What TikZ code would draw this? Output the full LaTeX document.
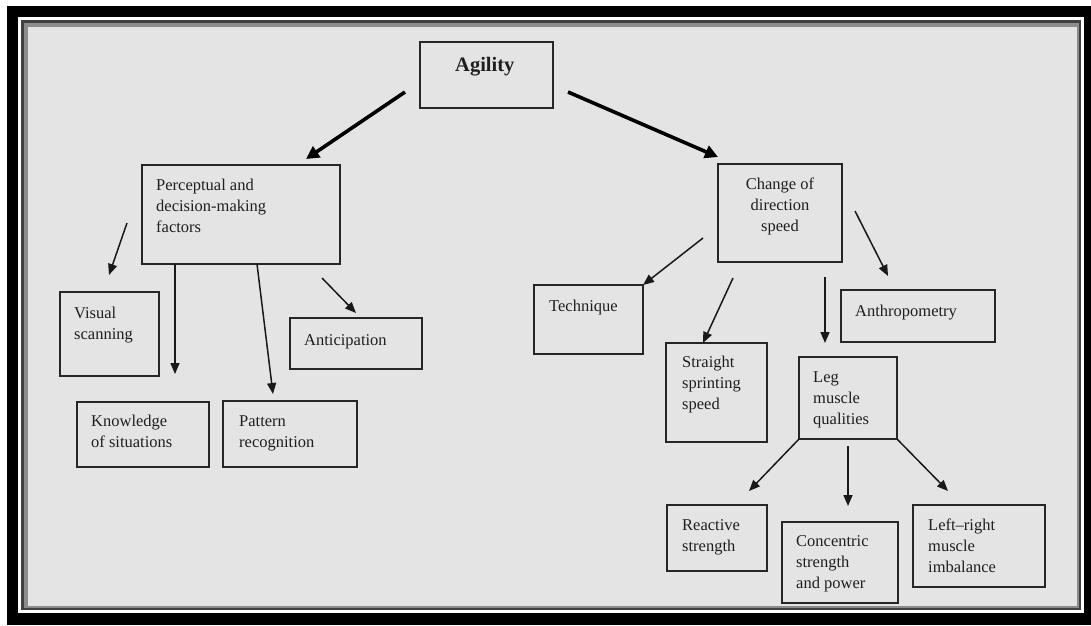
\documentclass[tikz,border=0pt]{standalone}
\usepackage{fontspec}
\setmainfont{Liberation Serif}
\usetikzlibrary{arrows.meta,calc}
\newcommand\mlines[2][l]{\begin{tabular}[t]{@{}#1@{}}#2\end{tabular}}
\begin{document}
\begin{tikzpicture}[x=1pt,y=-1pt,
  box/.style={draw=black!85, line width=1.8pt, anchor=north west, inner sep=0pt, outer sep=0pt},
  txt/.style={anchor=base west, inner sep=0pt, font=\fontsize{16.5}{21}\selectfont, text=black!88},
  arr/.style={line width=1.5pt, draw=black!90, -{Triangle[length=11pt,width=9pt]}},
  bigarr/.style={line width=3.6pt, draw=black, -{Triangle[length=13pt,width=13pt]}}]
\useasboundingbox (0,0) rectangle (1091,625);
% frame
\fill[black] (7,6) rectangle (1091,625);
\fill[white] (18,17) rectangle (1084,613);
\fill[black!75] (21,20) rectangle (1081,610);
\fill[black!45] (24,23) rectangle (1079,608);
\fill[black!10.5] (28,27) rectangle (1077,606);

% boxes
\node[box, minimum width=133, minimum height=66] (agility) at (420,42) {};
\node[box, minimum width=198, minimum height=99] (perc) at (142,165) {};
\node[box, minimum width=99, minimum height=84] (vis) at (60,292) {};
\node[box, minimum width=132, minimum height=65] (know) at (77,402) {};
\node[box, minimum width=134, minimum height=66] (patt) at (223,401) {};
\node[box, minimum width=132, minimum height=51] (antic) at (290,318) {};
\node[box, minimum width=124, minimum height=98] (change) at (718,164) {};
\node[box, minimum width=109, minimum height=69] (tech) at (534,285) {};
\node[box, minimum width=101, minimum height=99] (straight) at (666,343) {};
\node[box, minimum width=154, minimum height=52] (anthro) at (841,290) {};
\node[box, minimum width=98, minimum height=82] (leg) at (799,357) {};
\node[box, minimum width=100, minimum height=66] (react) at (667,505) {};
\node[box, minimum width=116, minimum height=81] (conc) at (782,522) {};
\node[box, minimum width=132, minimum height=82] (lr) at (913,505) {};

% texts
\node[txt, font=\fontsize{20.5}{24}\selectfont\bfseries] (tagility) at (455,71) {Agility};
\node[txt] (tperc) at (156,190) {\mlines{Perceptual and\\decision-making\\factors}};
\node[txt] (tvis) at (74,318) {\mlines{Visual\\scanning}};
\node[txt] (tknow) at (91,426) {\mlines{Knowledge\\of situations}};
\node[txt] (tpatt) at (239,426) {\mlines{Pattern\\recognition}};
\node[txt] (tantic) at (304,345) {Anticipation};
\node[txt, anchor=base] (tchange) at (780,189) {\mlines[c]{Change of\\direction\\speed}};
\node[txt] (ttech) at (549,311) {Technique};
\node[txt] (tanthro) at (855,316) {Anthropometry};
\node[txt] (tstraight) at (682,367) {\mlines{Straight\\sprinting\\speed}};
\node[txt] (tleg) at (813,382) {\mlines{Leg\\muscle\\qualities}};
\node[txt] (treact) at (682,530) {\mlines{Reactive\\strength}};
\node[txt] (tconc) at (796,546) {\mlines{Concentric\\strength\\and power}};
\node[txt] (tlr) at (928,530) {\mlines{Left–right\\muscle\\imbalance}};

% arrow end points
\coordinate (a1s) at (405,92);   \coordinate (a1e) at (306,159);
\coordinate (a2s) at (568,92);   \coordinate (a2e) at (718,157);
\coordinate (pvs) at (127,223);  \coordinate (pve) at (109,275);
\coordinate (pke) at (175,374);
\coordinate (ppe) at (273,394);
\coordinate (pas) at (322,278);  \coordinate (pae) at (356,313);
\coordinate (cts) at (703,238);
\coordinate (css) at (733,278);
\coordinate (cls) at (825,277);  \coordinate (cle) at (825,343);
\coordinate (cas) at (855,211);  \coordinate (cae) at (888,276);
\coordinate (lre) at (749,491);
\coordinate (lcs) at (848,446);  \coordinate (lce) at (848,506);
\coordinate (lle) at (948,491);

% arrows
\draw[bigarr] (a1s) -- (a1e);
\draw[bigarr] (a2s) -- (a2e);
\draw[arr] (pvs) -- (pve);
\draw[arr] ($(perc.south west)+(33,0)$) -- (pke);
\draw[arr] ($(perc.south west)+(115,0)$) -- (ppe);
\draw[arr] (pas) -- (pae);
\draw[arr] (cts) -- (tech.north east);
\draw[arr] (css) -- ($(straight.north west)+(37,0)$);
\draw[arr] (cls) -- (cle);
\draw[arr] (cas) -- (cae);
\draw[arr] (leg.south west) -- (lre);
\draw[arr] (lcs) -- (lce);
\draw[arr] (leg.south east) -- (lle);
\end{tikzpicture}
\end{document}
